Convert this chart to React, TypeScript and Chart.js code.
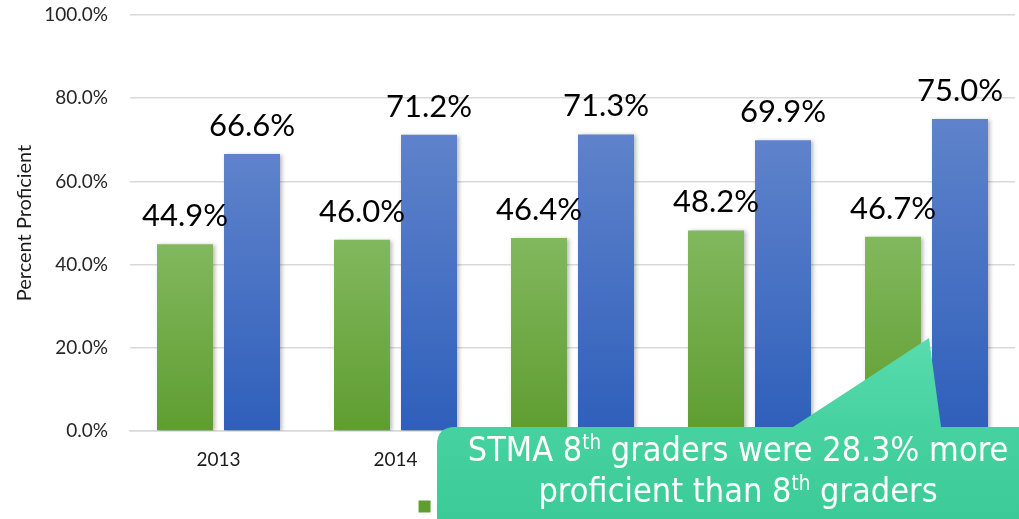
import React, { useEffect, useRef } from "react";
import { Chart, registerables } from "chart.js";

Chart.register(...registerables);

const categories = ["2013", "2014", "2015", "2016", "2017"];
const stateValues = [44.9, 46.0, 46.4, 48.2, 46.7];
const stmaValues = [66.6, 71.2, 71.3, 69.9, 75.0];
const seriesLabels = ["Statewide", "STMA"];
const yTicks = [0, 20, 40, 60, 80, 100];
const calloutLines = ["across our state."];

const FONT = "Lato, 'Open Sans', sans-serif";

const makeGrad = (top: string, bottom: string, flat: string) => (c: any) => {
  const chart = c.chart;
  const y = chart.scales && chart.scales.y;
  if (c.type !== "data" || !y || !chart.chartArea) return flat;
  const v = c.raw as number;
  const y0 = y.getPixelForValue(v);
  const y1 = y.getPixelForValue(0);
  if (!isFinite(y0) || !isFinite(y1) || y0 === y1) return flat;
  const g = chart.ctx.createLinearGradient(0, y0, 0, y1);
  g.addColorStop(0, top);
  g.addColorStop(1, bottom);
  return g;
};

const shadowPlugin = {
  id: "barShadow",
  beforeDatasetsDraw(chart: any) {
    const ctx = chart.ctx;
    ctx.save();
    ctx.shadowColor = "rgba(0,0,0,0.28)";
    ctx.shadowBlur = 4;
    ctx.shadowOffsetX = 2;
    ctx.shadowOffsetY = 1;
  },
  afterDatasetsDraw(chart: any) {
    chart.ctx.restore();
  },
};

const labelPlugin = {
  id: "valueLabels",
  afterDatasetsDraw(chart: any) {
    const ctx = chart.ctx;
    ctx.save();
    ctx.font = `31px ${FONT}`;
    ctx.fillStyle = "#000";
    ctx.textAlign = "center";
    ctx.textBaseline = "alphabetic";
    chart.data.datasets.forEach((ds: any, di: number) => {
      const meta = chart.getDatasetMeta(di);
      meta.data.forEach((el: any, i: number) => {
        const v = ds.data[i] as number;
        ctx.fillText(v.toFixed(1) + "%", el.x, el.y - 18);
      });
    });
    ctx.restore();
  },
};

function App() {
  const ref = useRef<HTMLCanvasElement | null>(null);

  useEffect(() => {
    if (!ref.current) return;
    const chart = new Chart(ref.current, {
      type: "bar",
      data: {
        labels: categories,
        datasets: [
          {
            label: seriesLabels[0],
            data: stateValues,
            backgroundColor: makeGrad("#82b85e", "#5f9d30", "#70ad47"),
            categoryPercentage: 0.757,
            barPercentage: 0.836,
          },
          {
            label: seriesLabels[1],
            data: stmaValues,
            backgroundColor: makeGrad("#5f83cb", "#2f5fbb", "#4472c4"),
            categoryPercentage: 0.757,
            barPercentage: 0.836,
          },
        ],
      },
      options: {
        responsive: false,
        animation: false,
        layout: { padding: { top: 15, right: 4, left: 0, bottom: -7 } },
        plugins: {
          legend: {
            position: "bottom",
            labels: {
              boxWidth: 12,
              boxHeight: 12,
              padding: 0,
              color: "#262626",
              font: { family: FONT, size: 19 },
            },
          },
          tooltip: { enabled: false },
        },
        scales: {
          x: {
            grid: { display: false, drawTicks: false },
            border: { display: true, color: "#d9d9d9", width: 1.5 },
            ticks: {
              color: "#1a1a1a",
              padding: 17,
              font: { family: FONT, size: 19 },
            },
            afterFit: (s: any) => {
              s.height = 66;
            },
          },
          y: {
            min: 0,
            max: 100,
            afterBuildTicks: (s: any) => {
              s.ticks = yTicks.map((v) => ({ value: v }));
            },
            grid: {
              color: "#d9d9d9",
              lineWidth: 1.5,
              drawTicks: true,
              tickLength: 22,
              tickColor: "rgba(0,0,0,0)",
            },
            border: { display: false },
            ticks: {
              color: "#262626",
              padding: 0,
              font: { family: FONT, size: 19 },
              callback: (v: any) => Number(v).toFixed(1) + "%",
            },
            title: {
              display: true,
              text: "Percent Proficient",
              color: "#1a1a1a",
              font: { family: FONT, size: 20 },
              padding: { top: 13, bottom: 0 },
            },
            afterFit: (s: any) => {
              s.width = 130;
            },
          },
        },
      },
      plugins: [shadowPlugin, labelPlugin],
    });
    return () => chart.destroy();
  }, []);

  const calloutFont = "'DejaVu Sans Condensed', 'DejaVu Sans', sans-serif";
  const supStyle = { fontSize: "0.6em", lineHeight: 0 } as const;

  return (
    <div
      style={{
        position: "fixed",
        left: 0,
        top: 0,
        width: 1019,
        height: 519,
        overflow: "hidden",
        background: "#fff",
      }}
    >
      <canvas ref={ref} width={1019} height={519} style={{ display: "block" }} />
      <svg width={1019} height={519} style={{ position: "absolute", left: 0, top: 0 }}>
        <defs>
          <linearGradient id="cg" x1="0" y1="338" x2="0" y2="519" gradientUnits="userSpaceOnUse">
            <stop offset="0" stopColor="#58dcae" />
            <stop offset="0.5" stopColor="#46d1a1" />
            <stop offset="1" stopColor="#3ccb98" />
          </linearGradient>
        </defs>
        <path
          d="M 455 427 L 793 427 L 929 338 L 941 427 L 1060 427 L 1060 560 L 437 560 L 437 445 Q 437 427 455 427 Z"
          fill="url(#cg)"
        />
      </svg>
      <div
        style={{
          position: "absolute",
          left: 436,
          width: 604,
          top: 429,
          textAlign: "center",
          color: "#fff",
          fontFamily: calloutFont,
          fontSize: 34,
          lineHeight: "41px",
          whiteSpace: "nowrap",
        }}
      >
        <div>
          STMA 8<sup style={supStyle}>th</sup> graders were 28.3% more
        </div>
        <div>
          proficient than 8<sup style={supStyle}>th</sup> graders
        </div>
        {calloutLines.map((t) => (
          <div key={t}>{t}</div>
        ))}
      </div>
    </div>
  );
}

export default App;
